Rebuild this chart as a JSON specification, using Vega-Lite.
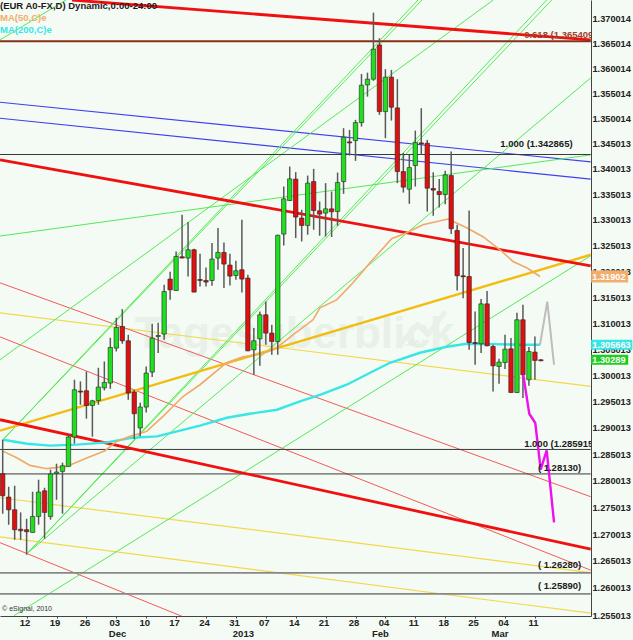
{"$schema":"https://vega.github.io/schema/vega-lite/v6.json","width":591,"height":616,"autosize":"none","padding":{"left":0,"top":0,"right":42,"bottom":24},"background":"#f4faf4","config":{"view":{"stroke":null},"font":"Liberation Sans"},
"datasets":{
"lines":[
{"s":"R1","k":"thickred","i":11.59,"p":1.3737},{"s":"R1","k":"thickred","i":98.33,"p":1.36566},
{"s":"R2","k":"thickred","i":-0.45,"p":1.34181},{"s":"R2","k":"thickred","i":98.33,"p":1.32109},
{"s":"R3","k":"thickred","i":-0.45,"p":1.29155},{"s":"R3","k":"thickred","i":98.33,"p":1.2672},
{"s":"F618","k":"brown","i":-0.45,"p":1.3654},{"s":"F618","k":"brown","i":98.33,"p":1.3654},
{"s":"H1","k":"black","i":-0.45,"p":1.342865},{"s":"H1","k":"black","i":98.33,"p":1.342865},
{"s":"H2","k":"black","i":-0.45,"p":1.285915},{"s":"H2","k":"black","i":98.33,"p":1.285915},
{"s":"H3","k":"black","i":-0.45,"p":1.2813},{"s":"H3","k":"black","i":98.33,"p":1.2813},
{"s":"H4","k":"gray","i":-0.45,"p":1.2628},{"s":"H4","k":"gray","i":98.33,"p":1.2628},
{"s":"H5","k":"gray","i":-0.45,"p":1.2589},{"s":"H5","k":"gray","i":98.33,"p":1.2589},
{"s":"B1","k":"blue","i":-0.45,"p":1.35322},{"s":"B1","k":"blue","i":98.33,"p":1.34141},
{"s":"B2","k":"blue","i":-0.45,"p":1.35005},{"s":"B2","k":"blue","i":98.33,"p":1.33802},
{"s":"G1","k":"green","i":-0.45,"p":1.32687},{"s":"G1","k":"green","i":98.33,"p":1.34279},
{"s":"G2","k":"green","i":-0.45,"p":1.30297},{"s":"G2","k":"green","i":82.04,"p":1.3737},
{"s":"G4","k":"green","i":1.89,"p":1.2549},{"s":"G4","k":"green","i":98.33,"p":1.32303},
{"s":"G5","k":"green","i":4.23,"p":1.26655},{"s":"G5","k":"green","i":98.33,"p":1.35807},
{"s":"G6","k":"green","i":-0.45,"p":1.36566},{"s":"G6","k":"green","i":10.59,"p":1.3737},
{"s":"P1a","k":"green","i":4.23,"p":1.26655},{"s":"P1a","k":"green","i":90.97,"p":1.3737},
{"s":"P1b","k":"green","i":4.23,"p":1.26655},{"s":"P1b","k":"green","i":91.81,"p":1.3737},
{"s":"P2a","k":"green","i":0.05,"p":1.28776},{"s":"P2a","k":"green","i":69.45,"p":1.3737},
{"s":"P2b","k":"green","i":0.05,"p":1.28776},{"s":"P2b","k":"green","i":70.12,"p":1.3737},
{"s":"T1","k":"thinred","i":-0.45,"p":1.31779},{"s":"T1","k":"thinred","i":98.33,"p":1.27701},
{"s":"T2","k":"thinred","i":-0.45,"p":1.30736},{"s":"T2","k":"thinred","i":98.33,"p":1.26331},
{"s":"T3","k":"thinred","i":-0.45,"p":1.26842},{"s":"T3","k":"thinred","i":30.15,"p":1.2547},
{"s":"Y1","k":"yellow","i":-0.45,"p":1.31199},{"s":"Y1","k":"yellow","i":98.33,"p":1.29787},
{"s":"Y2","k":"yellow","i":-0.45,"p":1.27682},{"s":"Y2","k":"yellow","i":98.33,"p":1.26285},
{"s":"Y3","k":"yellow","i":-0.45,"p":1.26952},{"s":"Y3","k":"yellow","i":98.33,"p":1.25535},
{"s":"TY","k":"thickyellow","i":-0.45,"p":1.28946},{"s":"TY","k":"thickyellow","i":98.33,"p":1.32323}
],
"ma200":[{"i":0.1,"p":1.28776},{"i":4.06,"p":1.287},{"i":7.91,"p":1.28663},{"i":12.42,"p":1.28682},{"i":17.44,"p":1.28725},{"i":21.79,"p":1.28814},{"i":25.8,"p":1.28839},{"i":29.15,"p":1.28933},{"i":32.99,"p":1.29041},{"i":37.5,"p":1.29192},{"i":41.35,"p":1.29268},{"i":45.87,"p":1.29344},{"i":49.71,"p":1.29501},{"i":53.06,"p":1.29628},{"i":57.53,"p":1.2982},{"i":61.44,"p":1.30049},{"i":64.77,"p":1.3024},{"i":69.78,"p":1.30431},{"i":74.25,"p":1.30546},{"i":77.59,"p":1.30603},{"i":81.99,"p":1.30597},{"i":86.5,"p":1.30584},{"i":89.85,"p":1.30584}],
"ma50":[{"i":0.1,"p":1.28555},{"i":2.34,"p":1.28436},{"i":4.57,"p":1.28291},{"i":7.36,"p":1.28229},{"i":10.7,"p":1.28272},{"i":14.05,"p":1.2843},{"i":17.11,"p":1.28568},{"i":19.06,"p":1.28744},{"i":21.29,"p":1.28839},{"i":24.08,"p":1.28933},{"i":26.81,"p":1.29217},{"i":30.15,"p":1.29596},{"i":32.99,"p":1.2982},{"i":37.46,"p":1.3024},{"i":40.18,"p":1.30354},{"i":43.52,"p":1.30412},{"i":45.81,"p":1.30526},{"i":48.54,"p":1.30776},{"i":51.89,"p":1.31065},{"i":53.06,"p":1.31295},{"i":55.85,"p":1.31449},{"i":58.58,"p":1.31779},{"i":61.42,"p":1.32168},{"i":65.05,"p":1.32635},{"i":67.56,"p":1.32752},{"i":70.28,"p":1.32908},{"i":74.46,"p":1.33019},{"i":77.59,"p":1.32849},{"i":80.32,"p":1.32674},{"i":83.16,"p":1.3242},{"i":85.33,"p":1.32193},{"i":87.62,"p":1.3207},{"i":89.85,"p":1.31901}],
"candles":[
{"i":0,"o":1.28134,"h":1.28776,"l":1.27383,"c":1.27719},
{"i":1,"o":1.27695,"h":1.27889,"l":1.27177,"c":1.27457},
{"i":2,"o":1.27457,"h":1.27908,"l":1.26897,"c":1.27084},
{"i":3,"o":1.27093,"h":1.27407,"l":1.26897,"c":1.27065},
{"i":4,"o":1.27084,"h":1.27289,"l":1.26618,"c":1.27047},
{"i":5,"o":1.27034,"h":1.27795,"l":1.27028,"c":1.27332},
{"i":6,"o":1.27332,"h":1.28021,"l":1.27177,"c":1.27789},
{"i":7,"o":1.27813,"h":1.2787,"l":1.26916,"c":1.27407},
{"i":8,"o":1.27332,"h":1.2821,"l":1.27271,"c":1.28129},
{"i":9,"o":1.2814,"h":1.28323,"l":1.27644,"c":1.28166},
{"i":10,"o":1.28178,"h":1.28342,"l":1.27383,"c":1.28285},
{"i":11,"o":1.28272,"h":1.28871,"l":1.28266,"c":1.28827},
{"i":12,"o":1.28827,"h":1.29915,"l":1.287,"c":1.29724},
{"i":13,"o":1.29699,"h":1.29883,"l":1.29438,"c":1.2968},
{"i":14,"o":1.29705,"h":1.30074,"l":1.29174,"c":1.29425},
{"i":15,"o":1.29425,"h":1.29533,"l":1.28833,"c":1.29514},
{"i":16,"o":1.2952,"h":1.30144,"l":1.29438,"c":1.29776},
{"i":17,"o":1.29762,"h":1.30265,"l":1.29711,"c":1.29864},
{"i":18,"o":1.29852,"h":1.30719,"l":1.29743,"c":1.30532},
{"i":19,"o":1.30521,"h":1.31103,"l":1.30456,"c":1.30917},
{"i":20,"o":1.30936,"h":1.3127,"l":1.30603,"c":1.30661},
{"i":21,"o":1.30661,"h":1.30776,"l":1.29533,"c":1.29661},
{"i":22,"o":1.2968,"h":1.29724,"l":1.28789,"c":1.29268},
{"i":23,"o":1.28998,"h":1.29476,"l":1.28839,"c":1.29395},
{"i":24,"o":1.29395,"h":1.30169,"l":1.29293,"c":1.30043},
{"i":25,"o":1.30062,"h":1.30988,"l":1.29966,"c":1.30713},
{"i":26,"o":1.30744,"h":1.31007,"l":1.30425,"c":1.30763},
{"i":27,"o":1.3079,"h":1.3174,"l":1.3068,"c":1.3161},
{"i":28,"o":1.31851,"h":1.31993,"l":1.31449,"c":1.31643},
{"i":29,"o":1.3163,"h":1.32387,"l":1.31624,"c":1.3229},
{"i":30,"o":1.32284,"h":1.33103,"l":1.32255,"c":1.32259},
{"i":31,"o":1.32259,"h":1.3296,"l":1.31901,"c":1.3242},
{"i":32,"o":1.3242,"h":1.32439,"l":1.31595,"c":1.31599},
{"i":33,"o":1.31843,"h":1.32342,"l":1.31707,"c":1.31824},
{"i":34,"o":1.31824,"h":1.32076,"l":1.31707,"c":1.31793},
{"i":35,"o":1.31824,"h":1.32551,"l":1.31721,"c":1.32239},
{"i":36,"o":1.32259,"h":1.32843,"l":1.32032,"c":1.32368},
{"i":37,"o":1.32368,"h":1.32562,"l":1.31676,"c":1.32142},
{"i":38,"o":1.32123,"h":1.32342,"l":1.31727,"c":1.31909},
{"i":39,"o":1.31921,"h":1.32206,"l":1.31837,"c":1.32012},
{"i":40,"o":1.32032,"h":1.33005,"l":1.31591,"c":1.31851},
{"i":41,"o":1.3187,"h":1.31935,"l":1.30459,"c":1.30469},
{"i":42,"o":1.30488,"h":1.30905,"l":1.3001,"c":1.30661},
{"i":43,"o":1.30699,"h":1.31224,"l":1.30182,"c":1.31161},
{"i":44,"o":1.31161,"h":1.31416,"l":1.30584,"c":1.30809},
{"i":45,"o":1.30809,"h":1.30968,"l":1.30392,"c":1.30648},
{"i":46,"o":1.30648,"h":1.32713,"l":1.30392,"c":1.32703},
{"i":47,"o":1.32726,"h":1.33656,"l":1.32504,"c":1.33415},
{"i":48,"o":1.33381,"h":1.34049,"l":1.33375,"c":1.33807},
{"i":49,"o":1.33802,"h":1.33939,"l":1.32648,"c":1.33058},
{"i":50,"o":1.33038,"h":1.332,"l":1.32582,"c":1.32894},
{"i":51,"o":1.32894,"h":1.33872,"l":1.32713,"c":1.33723},
{"i":52,"o":1.33754,"h":1.34004,"l":1.3281,"c":1.33186},
{"i":53,"o":1.33181,"h":1.33362,"l":1.32693,"c":1.33116},
{"i":54,"o":1.33136,"h":1.33723,"l":1.32679,"c":1.33219},
{"i":55,"o":1.33219,"h":1.33558,"l":1.32668,"c":1.33161},
{"i":56,"o":1.33167,"h":1.33931,"l":1.32888,"c":1.33735},
{"i":57,"o":1.33754,"h":1.34807,"l":1.33513,"c":1.34629},
{"i":58,"o":1.34536,"h":1.34773,"l":1.34265,"c":1.34516},
{"i":59,"o":1.34561,"h":1.34972,"l":1.34161,"c":1.34918},
{"i":60,"o":1.34918,"h":1.35886,"l":1.34839,"c":1.35661},
{"i":61,"o":1.35667,"h":1.35912,"l":1.35434,"c":1.35781},
{"i":62,"o":1.35781,"h":1.37115,"l":1.35747,"c":1.36379},
{"i":63,"o":1.36466,"h":1.366,"l":1.35071,"c":1.35136},
{"i":64,"o":1.35136,"h":1.3598,"l":1.34609,"c":1.35821},
{"i":65,"o":1.35821,"h":1.35966,"l":1.34958,"c":1.35223},
{"i":66,"o":1.35209,"h":1.35781,"l":1.33723,"c":1.33951},
{"i":67,"o":1.33951,"h":1.34318,"l":1.33538,"c":1.33644},
{"i":68,"o":1.33604,"h":1.34279,"l":1.33317,"c":1.34029},
{"i":69,"o":1.34069,"h":1.34759,"l":1.33656,"c":1.34522},
{"i":70,"o":1.34516,"h":1.35204,"l":1.34279,"c":1.34496},
{"i":71,"o":1.34509,"h":1.34575,"l":1.33167,"c":1.33624},
{"i":72,"o":1.33617,"h":1.33939,"l":1.33083,"c":1.33586},
{"i":73,"o":1.33558,"h":1.33802,"l":1.33245,"c":1.33499},
{"i":74,"o":1.33499,"h":1.33965,"l":1.33311,"c":1.33886},
{"i":75,"o":1.33872,"h":1.34344,"l":1.32726,"c":1.3283},
{"i":76,"o":1.32796,"h":1.32908,"l":1.3163,"c":1.31915},
{"i":77,"o":1.31915,"h":1.32453,"l":1.31482,"c":1.31896},
{"i":78,"o":1.31901,"h":1.33186,"l":1.30488,"c":1.30628},
{"i":79,"o":1.30628,"h":1.31224,"l":1.30202,"c":1.30608},
{"i":80,"o":1.30603,"h":1.31468,"l":1.30425,"c":1.31372},
{"i":81,"o":1.31372,"h":1.31619,"l":1.30555,"c":1.30565},
{"i":82,"o":1.30551,"h":1.30584,"l":1.29692,"c":1.30182},
{"i":83,"o":1.30169,"h":1.30316,"l":1.29839,"c":1.30253},
{"i":84,"o":1.30245,"h":1.30776,"l":1.30119,"c":1.30501},
{"i":85,"o":1.30507,"h":1.30713,"l":1.29667,"c":1.29672},
{"i":86,"o":1.29672,"h":1.31199,"l":1.29667,"c":1.31065},
{"i":87,"o":1.31065,"h":1.31353,"l":1.29565,"c":1.3001},
{"i":88,"o":1.29915,"h":1.3054,"l":1.298,"c":1.30456},
{"i":89,"o":1.30444,"h":1.30744,"l":1.29915,"c":1.30284},
{"i":90,"o":1.30297,"h":1.30306,"l":1.30268,"c":1.30278}
]},
"encoding":{"x":{"field":"i","type":"quantitative","scale":{"domain":[-0.45,98.38],"nice":false,"zero":false,"padding":0},"axis":{"orient":"bottom","values":[4,9,14,19,24,29,34,39,44,49,54,59,64,69,74,79,84,89],"labels":false,"title":null,"grid":false,"tickSize":2,"tickColor":"#444","domainColor":"#444"}},"y":{"field":"p","type":"quantitative","scale":{"type":"log","domain":[1.25483,1.3737],"nice":false,"zero":false},"axis":{"orient":"right","values":[1.370014,1.365014,1.360014,1.355014,1.350014,1.345013,1.340013,1.335013,1.330013,1.325013,1.320013,1.315013,1.310013,1.305013,1.300013,1.295013,1.290013,1.285013,1.280013,1.275013,1.270013,1.265013,1.260013,1.255013],"format":".6f","title":null,"grid":false,"ticks":false,"domainColor":"#444","labelFont":"Liberation Sans","labelFontSize":9.2,"labelFontWeight":"bold","labelColor":"#222","labelPadding":1,"labelOverlap":false,"labelBound":false}}},
"layer":[
{"data":{"values":[{"t":"Tagesüberblick","i":22.1,"p":1.30776}]},"mark":{"type":"text","align":"left","baseline":"middle","font":"Liberation Sans","fontWeight":"bold","fontSize":44,"color":"#e8f1e8"},"encoding":{"text":{"field":"t"}}},
{"data":{"values":[{"s":"a","i":66.4,"p":1.30584},{"s":"a","i":69.4,"p":1.30968},{"s":"a","i":71.1,"p":1.30776},{"s":"a","i":74,"p":1.31218}]},"mark":{"type":"line","color":"#e8f1e8","strokeWidth":5}},
{"data":{"values":[{"t":".de","i":67.3,"p":1.3062}]},"mark":{"type":"text","align":"left","baseline":"middle","fontWeight":"bold","fontSize":10,"color":"#e4eee4"},"encoding":{"text":{"field":"t"}}},
{"data":{"name":"lines"},"transform":[{"filter":"datum.k=='yellow'"}],"mark":{"type":"line","clip":true,"color":"#f2d84c","strokeWidth":1.2},"encoding":{"detail":{"field":"s"}}},
{"data":{"name":"lines"},"transform":[{"filter":"datum.k=='thinred'"}],"mark":{"type":"line","clip":true,"color":"#f45a5a","strokeWidth":1},"encoding":{"detail":{"field":"s"}}},
{"data":{"name":"lines"},"transform":[{"filter":"datum.k=='blue'"}],"mark":{"type":"line","clip":true,"color":"#4040ee","strokeWidth":1.1},"encoding":{"detail":{"field":"s"}}},
{"data":{"name":"lines"},"transform":[{"filter":"datum.k=='green'"}],"mark":{"type":"line","clip":true,"color":"#55ea55","strokeWidth":1},"encoding":{"detail":{"field":"s"}}},
{"data":{"name":"lines"},"transform":[{"filter":"datum.k=='gray'"}],"mark":{"type":"line","clip":true,"color":"#888888","strokeWidth":1.7},"encoding":{"detail":{"field":"s"}}},
{"data":{"name":"lines"},"transform":[{"filter":"datum.k=='black'"}],"mark":{"type":"line","clip":true,"color":"#3a3a3a","strokeWidth":1},"encoding":{"detail":{"field":"s"}}},
{"data":{"name":"lines"},"transform":[{"filter":"datum.k=='thickyellow'"}],"mark":{"type":"line","clip":true,"color":"#f2bc10","strokeWidth":2.4},"encoding":{"detail":{"field":"s"}}},
{"data":{"name":"lines"},"transform":[{"filter":"datum.k=='thickred'"}],"mark":{"type":"line","clip":true,"color":"#f01010","strokeWidth":2.8},"encoding":{"detail":{"field":"s"}}},
{"data":{"name":"lines"},"transform":[{"filter":"datum.k=='brown'"}],"mark":{"type":"line","clip":true,"color":"#8a3018","strokeWidth":2.2},"encoding":{"detail":{"field":"s"}}},
{"data":{"name":"ma200"},"mark":{"type":"line","color":"#38e6e6","strokeWidth":2.4}},
{"data":{"name":"ma50"},"mark":{"type":"line","color":"#f2a868","strokeWidth":1.6}},
{"data":{"name":"candles"},"mark":{"type":"rule","color":"#5a5a5a","strokeWidth":1.5},"encoding":{"y":{"field":"h","type":"quantitative","scale":{"type":"log","domain":[1.25483,1.3737],"nice":false,"zero":false}},"y2":{"field":"l"}}},
{"data":{"name":"candles"},"mark":{"type":"bar","size":4.4,"stroke":"#222222","strokeWidth":0.6},"encoding":{"y":{"field":"o","type":"quantitative","scale":{"type":"log","domain":[1.25483,1.3737],"nice":false,"zero":false}},"y2":{"field":"c"},"color":{"condition":{"test":"datum.c>datum.o","value":"#1fe01f"},"value":"#e01010"}}},
{"data":{"values":[{"s":"gray","i":89.85,"p":1.30584},{"s":"gray","i":91.07,"p":1.31416},{"s":"gray","i":92.2,"p":1.30202}]},"mark":{"type":"line","color":"#bdbdbd","strokeWidth":2}},
{"data":{"values":[{"i":87.05,"p":1.3001},{"i":88.06,"p":1.29268},{"i":89.06,"p":1.29092},{"i":89.97,"p":1.2821},{"i":90.97,"p":1.28574},{"i":92.2,"p":1.2722}]},"mark":{"type":"line","color":"#ee10ee","strokeWidth":2.4}},
{"data":{"values":[{"i":98.4,"i2":104.6,"top":1.32018,"bot":1.31784,"c":"o"},{"i":98.4,"i2":105.3,"top":1.3068,"bot":1.30488,"c":"m"},{"i":98.4,"i2":104.6,"top":1.30392,"bot":1.30202,"c":"g"}]},"mark":{"type":"rect"},"encoding":{"x2":{"field":"i2"},"y":{"field":"top","type":"quantitative","scale":{"type":"log","domain":[1.25483,1.3737],"nice":false,"zero":false}},"y2":{"field":"bot"},"color":{"field":"c","type":"nominal","legend":null,"scale":{"domain":["o","m","g"],"range":["#f2ae6c","#38e6e6","#20cc20"]}}}},
{"data":{"values":[{"t":"1.31902","i":98.6,"p":1.31901},{"t":"1.305663","i":98.6,"p":1.30584},{"t":"1.30289","i":98.6,"p":1.30297}]},"mark":{"type":"text","align":"left","baseline":"middle","fontWeight":"bold","fontSize":9.2,"color":"#ffffff"},"encoding":{"text":{"field":"t"}}},
{"data":{"values":[{"t":"12","i":4,"p":1.2536},{"t":"19","i":9,"p":1.2536},{"t":"26","i":14,"p":1.2536},{"t":"03","i":19,"p":1.2536},{"t":"10","i":24,"p":1.2536},{"t":"17","i":29,"p":1.2536},{"t":"24","i":34,"p":1.2536},{"t":"31","i":39,"p":1.2536},{"t":"07","i":44,"p":1.2536},{"t":"14","i":49,"p":1.2536},{"t":"21","i":54,"p":1.2536},{"t":"28","i":59,"p":1.2536},{"t":"04","i":64,"p":1.2536},{"t":"11","i":69,"p":1.2536},{"t":"18","i":74,"p":1.2536},{"t":"25","i":79,"p":1.2536},{"t":"04","i":84,"p":1.2536},{"t":"11","i":89,"p":1.2536},{"t":"Dec","i":19.45,"p":1.25152},{"t":"2013","i":40.5,"p":1.25152},{"t":"Feb","i":63.4,"p":1.25152},{"t":"Mar","i":83.4,"p":1.25152}]},"mark":{"type":"text","align":"center","baseline":"middle","fontWeight":"bold","fontSize":9.5,"color":"#222222","dx":-1.5},"encoding":{"text":{"field":"t"}}},
{"data":{"values":[{"t":"(EUR A0-FX,D) Dynamic,0:00-24:00","i":-0.45,"p":1.3725}]},"mark":{"type":"text","align":"left","baseline":"middle","fontWeight":"bold","fontSize":9.5,"color":"#1a1a1a"},"encoding":{"text":{"field":"t"}}},
{"data":{"values":[{"t":"MA(50,C)e","i":-0.45,"p":1.37008}]},"mark":{"type":"text","align":"left","baseline":"middle","fontWeight":"bold","fontSize":9.5,"color":"#f2ae6c"},"encoding":{"text":{"field":"t"}}},
{"data":{"values":[{"t":"MA(200,C)e","i":-0.45,"p":1.36767}]},"mark":{"type":"text","align":"left","baseline":"middle","fontWeight":"bold","fontSize":9.5,"color":"#38e6e6"},"encoding":{"text":{"field":"t"}}},
{"data":{"values":[{"t":"0.618  (1.365409","i":87.2,"p":1.36666}]},"mark":{"type":"text","align":"left","baseline":"middle","fontWeight":"bold","fontSize":9.5,"color":"#a04028","clip":true},"encoding":{"text":{"field":"t"}}},
{"data":{"values":[{"t":"1.000  (1.342865)","i":83.2,"p":1.345},{"t":"1.000  (1.285915","i":87.2,"p":1.287},{"t":"( 1.28130)","i":89.5,"p":1.28248},{"t":"( 1.26280)","i":89.5,"p":1.26429},{"t":"( 1.25890)","i":89.5,"p":1.2604}]},"mark":{"type":"text","align":"left","baseline":"middle","fontWeight":"bold","fontSize":9.5,"color":"#1a1a1a","clip":true},"encoding":{"text":{"field":"t"}}},
{"data":{"values":[{"t":"© eSignal, 2010","i":-0.1,"p":1.2561}]},"mark":{"type":"text","align":"left","baseline":"middle","fontSize":7,"color":"#333333"},"encoding":{"text":{"field":"t"}}}
]}
